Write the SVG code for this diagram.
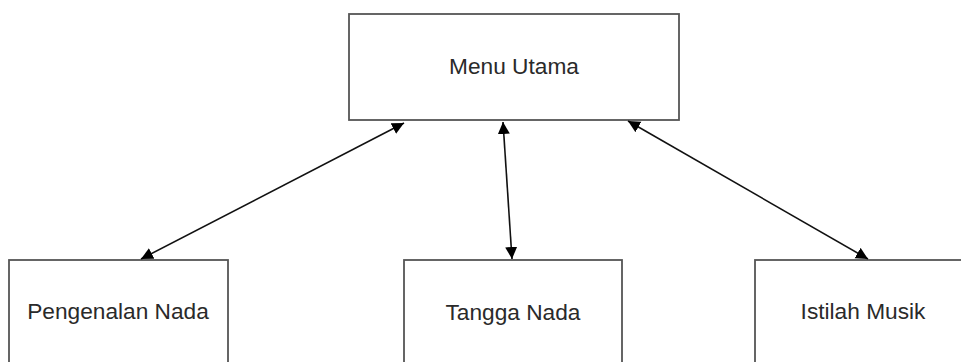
<svg xmlns="http://www.w3.org/2000/svg" width="961" height="362" viewBox="0 0 961 362">
  <style>
    .box { fill: #ffffff; stroke: #555555; stroke-width: 1.8; }
    .label { font-family: "Liberation Sans", Arial, sans-serif; font-size: 22.7px; fill: #2a2a2a; text-anchor: middle; }
    .link { stroke: #111111; stroke-width: 1.6; fill: none; marker-start: url(#arrow); marker-end: url(#arrow); }
  </style>
  <defs>
    <marker id="arrow" markerUnits="userSpaceOnUse" markerWidth="13" markerHeight="13" refX="12" refY="6.5" orient="auto-start-reverse">
      <path d="M0,0.5 L12,6.5 L0,12.5 Z" fill="#000000"/>
    </marker>
  </defs>
  <rect width="961" height="362" fill="#ffffff"/>

  <g id="menu-utama">
    <rect class="box" x="349" y="14" width="330" height="106"/>
    <text class="label" x="514" y="74">Menu Utama</text>
  </g>

  <g id="pengenalan-nada">
    <rect class="box" x="9" y="260" width="219" height="120"/>
    <text class="label" x="118" y="319">Pengenalan Nada</text>
  </g>

  <g id="tangga-nada">
    <rect class="box" x="404" y="260" width="218" height="120"/>
    <text class="label" x="513" y="320">Tangga Nada</text>
  </g>

  <g id="istilah-musik">
    <rect class="box" x="755" y="260" width="230" height="120"/>
    <text class="label" x="863" y="319">Istilah Musik</text>
  </g>

  <g id="connectors">
    <line class="link" x1="404" y1="123" x2="141" y2="259"/>
    <line class="link" x1="503" y1="122" x2="512" y2="259"/>
    <line class="link" x1="628" y1="121" x2="868" y2="259"/>
  </g>
</svg>
